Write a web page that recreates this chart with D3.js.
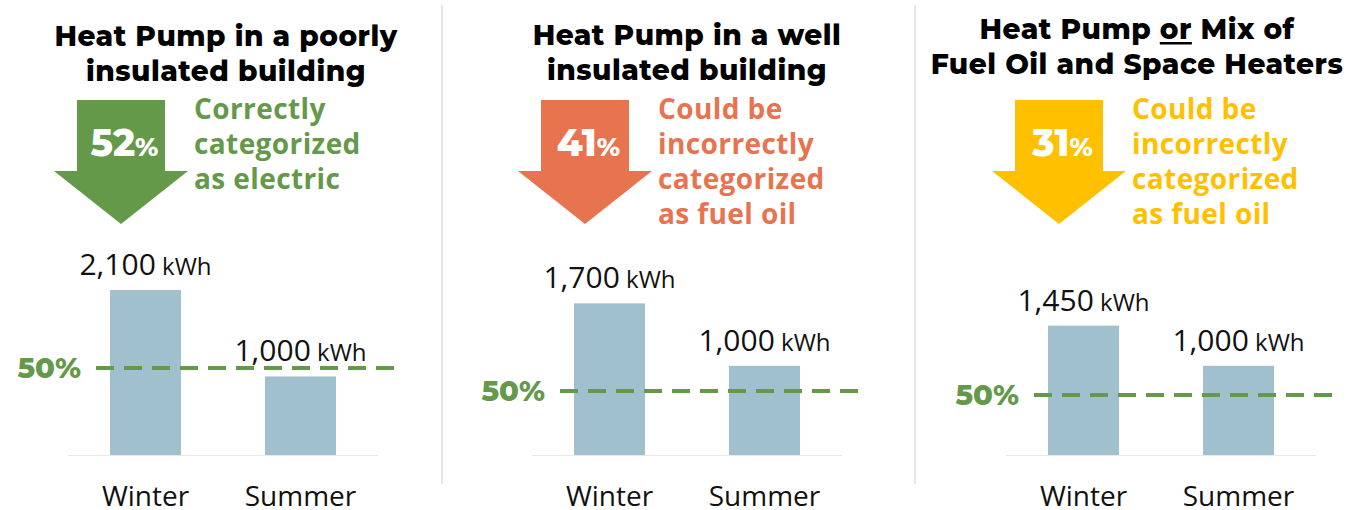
<!DOCTYPE html>
<html>
<head>
<meta charset="utf-8">
<script src="https://cdn.jsdelivr.net/npm/d3@7/dist/d3.min.js"></script>
<style>
  html, body { margin: 0; padding: 0; background: #ffffff; }
  svg { display: block; }
</style>
</head>
<body>
<svg id="chart" width="1354" height="510"></svg>
<script>
// ---- data ----
const titleLines = [
  ["Heat Pump in a poorly", "insulated building"],
  ["Heat Pump in a well", "insulated building"],
  ["Heat Pump or Mix of", "Fuel Oil and Space Heaters"]
];
const shares = [52, 41, 31];
const captions = [
  ["Correctly", "categorized", "as electric"],
  ["Could be", "incorrectly", "categorized", "as fuel oil"],
  ["Could be", "incorrectly", "categorized", "as fuel oil"]
];
const seasons = ["Winter", "Summer"];
const winterKwh = [2100, 1700, 1450];
const summerKwh = [1000, 1000, 1000];
const halfMarkKwh = [1107, 717, 672];   // level of the 50% reference line
const axisMaxKwh = [2545, 2242, 2242];  // top of each panel's value axis
const halfMarkLabel = "50%";
const unitLabel = "kWh";

// ---- layout / style ----
const accent = ["#64994a", "#e8734f", "#ffc000"];
const barColor = "#9fc0cc";
const refColor = "#64994a";
const panelLeft = [68, 532, 1006];
const titleCx = [226, 687, 1137];
const titleBase = [46, 45, 39];
const plotW = 310, baseY = 455, plotH = 200;

const svg = d3.select("#chart");
const fmt = d3.format(",");
const titleFont = "Montserrat, Inter, 'Open Sans', sans-serif";
const bodyFont = "'Open Sans', sans-serif";

// dividers between panels
[442, 915].forEach(x => {
  svg.append("line").attr("x1", x).attr("x2", x).attr("y1", 5).attr("y2", 484)
    .attr("stroke", "#e6e6e6").attr("stroke-width", 2);
});

titleLines.forEach((lines, i) => {
  const g = svg.append("g").attr("transform", `translate(${panelLeft[i]},0)`);
  const x = d3.scaleBand().domain(seasons).range([0, plotW])
    .paddingInner(0.542).paddingOuter(0.271);
  const y = d3.scaleLinear().domain([0, axisMaxKwh[i]]).range([baseY, baseY - plotH]);
  const vals = [winterKwh[i], summerKwh[i]];
  const data = seasons.map((s, k) => ({ season: s, value: vals[k] }));

  // title
  const tcx = titleCx[i] - panelLeft[i];
  lines.forEach((ln, j) => {
    const t = g.append("text")
      .attr("x", tcx).attr("y", titleBase[i] + j * 34.5)
      .attr("text-anchor", "middle")
      .attr("font-family", titleFont).attr("font-weight", 800)
      .attr("font-size", 28).attr("letter-spacing", 0.5).attr("fill", "#000");
    t.text(ln);
    const idx = ln.indexOf(" or ");
    if (idx >= 0) {
      const node = t.node();
      const x0 = node.getStartPositionOfChar(idx + 1).x;
      const x1 = node.getEndPositionOfChar(idx + 2).x;
      g.append("rect").attr("x", x0).attr("width", x1 - x0)
        .attr("y", titleBase[i] + j * 34.5 + 3).attr("height", 2.5).attr("fill", "#000");
    }
  });

  // arrow
  const ax = 53, top = 100, shaftHalf = 44, headHalf = 67, headY = 171, tipY = 224;
  const arrow = d3.path();
  arrow.moveTo(ax - shaftHalf, top);
  arrow.lineTo(ax + shaftHalf, top);
  arrow.lineTo(ax + shaftHalf, headY);
  arrow.lineTo(ax + headHalf, headY);
  arrow.lineTo(ax, tipY);
  arrow.lineTo(ax - headHalf, headY);
  arrow.lineTo(ax - shaftHalf, headY);
  arrow.closePath();
  g.append("path").attr("d", arrow.toString()).attr("fill", accent[i]);

  const pct = g.append("text").attr("x", ax + 3.5).attr("y", 156)
    .attr("text-anchor", "middle").attr("fill", "#fff")
    .attr("font-family", titleFont).attr("font-weight", 800);
  pct.append("tspan").attr("font-size", 37).text(shares[i]);
  pct.append("tspan").attr("font-size", 26).text("%");

  // caption
  const cap = g.append("text").attr("fill", accent[i])
    .attr("font-family", bodyFont).attr("font-weight", 700)
    .attr("font-size", 28).attr("letter-spacing", 0.4);
  captions[i].forEach((c, j) => {
    cap.append("tspan").attr("x", 126).attr("y", 119 + j * 35).text(c);
  });

  // baseline
  g.append("line").attr("x1", 0).attr("x2", plotW).attr("y1", baseY + 0.5).attr("y2", baseY + 0.5)
    .attr("stroke", "#e8e8e8").attr("stroke-width", 1);

  // bars
  g.selectAll("rect.bar").data(data).join("rect").attr("class", "bar")
    .attr("x", d => x(d.season)).attr("width", x.bandwidth())
    .attr("y", d => y(d.value)).attr("height", d => baseY - y(d.value))
    .attr("fill", barColor);

  // value labels
  const vl = g.selectAll("text.val").data(data).join("text").attr("class", "val")
    .attr("x", d => x(d.season) + x.bandwidth() / 2)
    .attr("y", d => y(d.value) - 15)
    .attr("text-anchor", "middle").attr("fill", "#111")
    .attr("font-family", bodyFont);
  vl.append("tspan").attr("font-size", 30).text(d => fmt(d.value));
  vl.append("tspan").attr("font-size", 24).text(" " + unitLabel);

  // 50% reference line
  const ry = y(halfMarkKwh[i]);
  g.append("line").attr("x1", 28).attr("x2", plotW + 19).attr("y1", ry).attr("y2", ry)
    .attr("stroke", refColor).attr("stroke-width", 4).attr("stroke-dasharray", "18,10");
  g.append("text").attr("x", 13).attr("y", ry).attr("dy", "0.36em")
    .attr("text-anchor", "end").attr("fill", refColor)
    .attr("font-family", titleFont).attr("font-weight", 800).attr("font-size", 29)
    .text(halfMarkLabel);

  // category labels
  g.selectAll("text.cat").data(seasons).join("text").attr("class", "cat")
    .attr("x", d => x(d) + x.bandwidth() / 2).attr("y", 506)
    .attr("text-anchor", "middle").attr("fill", "#111")
    .attr("font-family", bodyFont).attr("font-size", 28)
    .text(d => d);
});
</script>
</body>
</html>
